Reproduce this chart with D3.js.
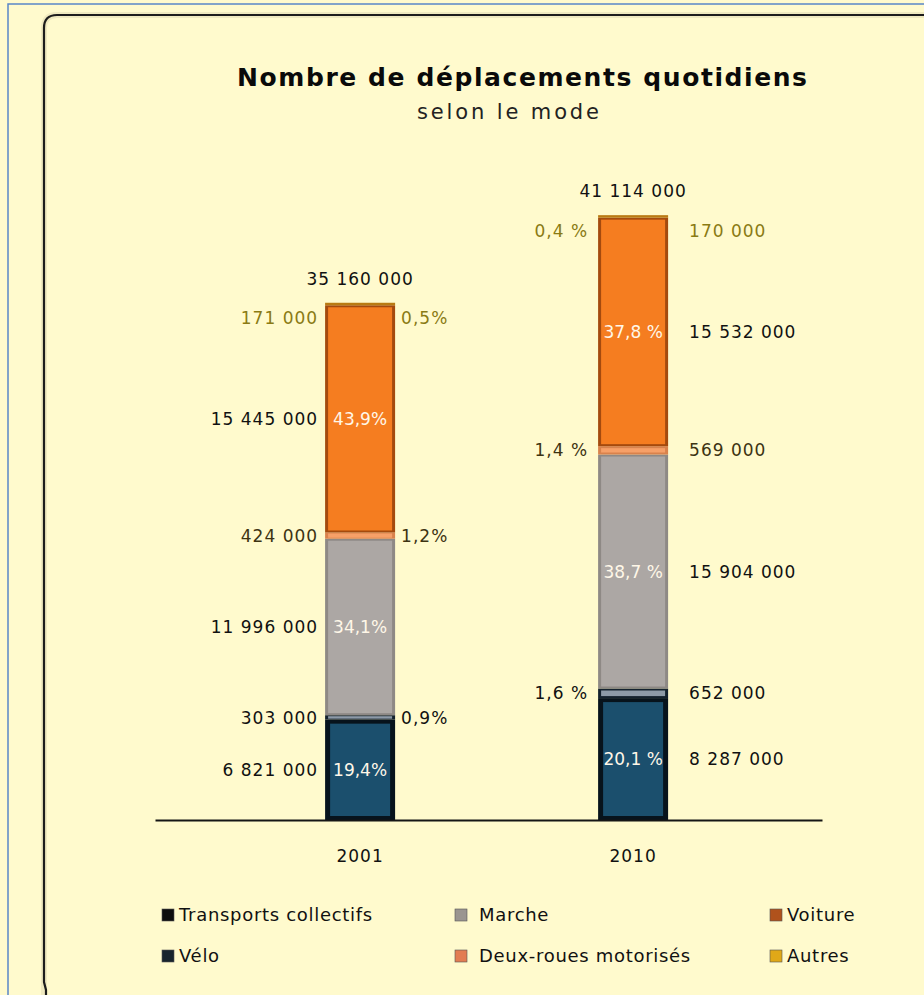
<!DOCTYPE html>
<html>
<head>
<meta charset="utf-8">
<script src="https://cdn.jsdelivr.net/npm/d3@7"></script>
<style>
  html, body { margin: 0; padding: 0; background: #fffacd; }
  svg { display: block; }
  text { font-family: "DejaVu Sans", sans-serif; }
</style>
</head>
<body>
<svg id="chart" width="924" height="995"></svg>
<script>
// Daily trips by mode, 2001 vs 2010
const years = ["2001", "2010"];
const modes = ["Transports collectifs", "Vélo", "Marche", "Deux-roues motorisés", "Voiture", "Autres"];
const values2001 = [6821000, 303000, 11996000, 424000, 15445000, 171000];
const values2010 = [8287000, 652000, 15904000, 569000, 15532000, 170000];
const totals = [35160000, 41114000];
const pctLabels2001 = ["19,4%", "0,9%", "34,1%", "1,2%", "43,9%", "0,5%"];
const pctLabels2010 = ["20,1 %", "1,6 %", "38,7 %", "1,4 %", "37,8 %", "0,4 %"];

// bar colours: edge (darker rim) and body
const edgeColors = ["#07131c", "#14222e", "#8e8985", "#d9824c", "#a44a0e", "#b97a12"];
const bodyColors = ["#1b4f6d", "#8d9aa7", "#aca7a4", "#f6a068", "#f57d20", "#e8a830"];
const legendColors = ["#0d0d0d", "#17232d", "#9a9590", "#e27c52", "#b0521c", "#e0a818"];
const labelColors = ["#111", "#111", "#111", "#3d3312", "#111", "#8a7a14"];

const fr = d3.formatLocale({ decimal: ",", thousands: "\u00a0", grouping: [3], currency: ["", " €"] });
const fmt = fr.format(",d");

const rows = years.map((y, i) => {
  const vals = i === 0 ? values2001 : values2010;
  const r = { year: y };
  modes.forEach((m, k) => r[m] = vals[k]);
  return r;
});
const pctLabels = [pctLabels2001, pctLabels2010];

const svg = d3.select("#chart");

// outer page rule and rounded frame
svg.append("path")
  .attr("d", "M8,995 L8,4 L930,4")
  .attr("fill", "none").attr("stroke", "#5a86c8").attr("stroke-width", 1.5);
svg.append("path")
  .attr("d", "M44,1000 L44,28 Q44,15 57,15 L930,15")
  .attr("fill", "none").attr("stroke", "#efe9c0").attr("stroke-width", 6);
svg.append("path")
  .attr("d", "M46,1000 L46,990 L44,982 L44,28 Q44,15 57,15 L930,15")
  .attr("fill", "none").attr("stroke", "#1c1c1c").attr("stroke-width", 2.2);

// title
svg.append("text")
  .attr("x", 522).attr("y", 86)
  .attr("text-anchor", "middle")
  .attr("font-size", 25).attr("font-weight", "bold").attr("fill", "#0a0a0a")
  .attr("textLength", 570).attr("lengthAdjust", "spacing")
  .text("Nombre de déplacements quotidiens");
svg.append("text")
  .attr("x", 508).attr("y", 119)
  .attr("text-anchor", "middle")
  .attr("font-size", 21).attr("fill", "#222")
  .attr("textLength", 182).attr("lengthAdjust", "spacing")
  .text("selon le mode");

// scales
const x = d3.scaleBand().domain(years).range([155, 822])
  .paddingInner(0.7436).paddingOuter(0.5934).align(0.525);
const y = d3.scaleLinear().domain([0, 45000000]).range([820, 158]);
const barW = 70;

const stacked = d3.stack().keys(modes)(rows);

const g = svg.append("g");
stacked.forEach((layer, k) => {
  layer.forEach((d, i) => {
    const cx = x(years[i]) + x.bandwidth() / 2;
    const x0 = cx - barW / 2;
    const yTop = y(d[1]), yBot = y(d[0]);
    const h = yBot - yTop;
    g.append("rect")
      .attr("x", x0).attr("y", yTop).attr("width", barW).attr("height", h)
      .attr("fill", edgeColors[k]);
    const insetX = k === 0 ? 5 : 3;
    const insetY = h > 8 ? (k === 0 ? 4 : 2) : 1;
    if (h > 3) {
      g.append("rect")
        .attr("x", x0 + insetX).attr("y", yTop + insetY)
        .attr("width", barW - 2 * insetX).attr("height", Math.max(0, h - 2 * insetY))
        .attr("fill", bodyColors[k]);
    }
  });
});

// value and percentage labels
const lab = svg.append("g").attr("font-size", 17).attr("letter-spacing", 1);
const bigSeg = [true, false, true, false, true, false];
stacked.forEach((layer, k) => {
  layer.forEach((d, i) => {
    const cx = x(years[i]) + x.bandwidth() / 2;
    let ym = (y(d[0]) + y(d[1])) / 2;
    if (k === 5) ym += 14;
    const valText = fmt(d.data[modes[k]]);
    const pctText = pctLabels[i][k];
    const valX = i === 0 ? cx - barW / 2 - 7 : cx + barW / 2 + 21;
    lab.append("text")
      .attr("x", valX).attr("y", ym).attr("dy", "0.36em")
      .attr("text-anchor", i === 0 ? "end" : "start")
      .attr("fill", labelColors[k])
      .text(valText);
    if (bigSeg[k]) {
      lab.append("text")
        .attr("x", cx).attr("y", ym).attr("dy", "0.36em")
        .attr("text-anchor", "middle")
        .attr("fill", "#fff7e8")
        .attr("letter-spacing", 0)
        .text(pctText);
    } else {
      const pX = i === 0 ? cx + barW / 2 + 6 : cx - barW / 2 - 10;
      lab.append("text")
        .attr("x", pX).attr("y", ym).attr("dy", "0.36em")
        .attr("text-anchor", i === 0 ? "start" : "end")
        .attr("fill", labelColors[k])
        .text(pctText);
    }
  });
});

// totals above bars
years.forEach((yr, i) => {
  const cx = x(yr) + x.bandwidth() / 2;
  lab.append("text")
    .attr("x", cx).attr("y", y(totals[i]) - 24).attr("dy", "0.36em")
    .attr("text-anchor", "middle").attr("fill", "#111")
    .text(fmt(totals[i]));
});

// baseline axis with year labels
const axis = svg.append("g").attr("transform", "translate(0,820)")
  .call(d3.axisBottom(x).tickSize(0).tickPadding(30));
axis.select(".domain").attr("stroke", "#151515").attr("stroke-width", 2);
axis.selectAll("text").attr("font-size", 17).attr("fill", "#111")
  .attr("letter-spacing", 1)
  .attr("font-family", "DejaVu Sans, sans-serif");

// legend
const legendPos = [
  [162, 915], [162, 956], [455, 915], [455, 956], [770, 915], [770, 956]
];
const legend = svg.append("g").attr("font-size", 18).attr("fill", "#111").attr("letter-spacing", 0.7);
modes.forEach((m, k) => {
  const [lx, ly] = legendPos[k];
  legend.append("rect")
    .attr("x", lx).attr("y", ly - 6).attr("width", 12).attr("height", 12)
    .attr("fill", legendColors[k]).attr("stroke", "#555").attr("stroke-width", 0.6);
  legend.append("text")
    .attr("x", lx + (k === 2 || k === 3 ? 24 : 17)).attr("y", ly).attr("dy", "0.36em")
    .text(m);
});
</script>
</body>
</html>
